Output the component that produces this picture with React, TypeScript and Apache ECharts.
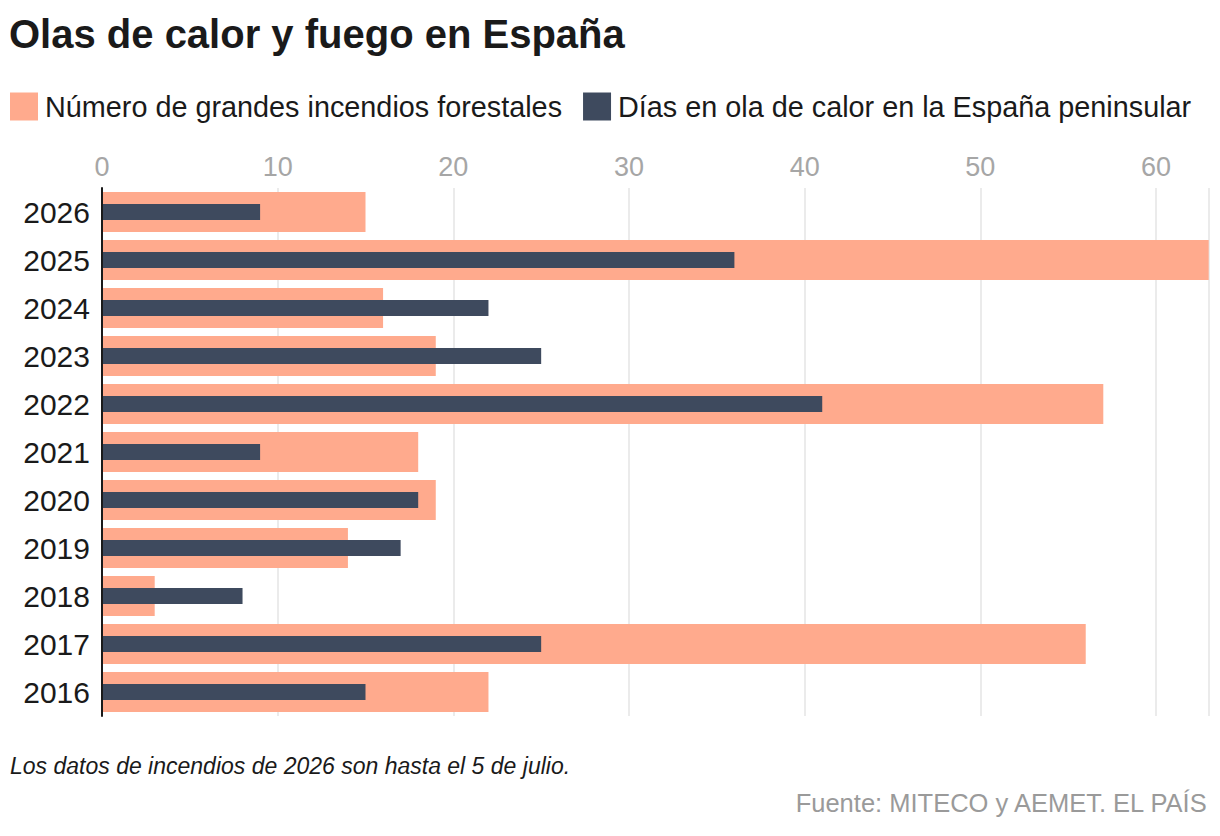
import React, { useEffect, useRef } from "react";
import * as echarts from "echarts";

// Years, top to bottom
const years = ["2026", "2025", "2024", "2023", "2022", "2021", "2020", "2019", "2018", "2017", "2016"];
// Número de grandes incendios forestales
const fires = [15, 63, 16, 19, 57, 18, 19, 14, 3, 56, 22];
// Días en ola de calor en la España peninsular
const heatDays = [9, 36, 22, 25, 41, 9, 18, 17, 8, 25, 15];
const xTicks = [0, 10, 20, 30, 40, 50, 60];

const FIRE_COLOR = "#ffaa8d";
const HEAT_COLOR = "#3e4a5e";
const FONT = "'Liberation Sans', Arial, sans-serif";

export default function App() {
  const ref = useRef<HTMLDivElement>(null);

  useEffect(() => {
    if (!ref.current) return;
    const chart = echarts.init(ref.current, null, { renderer: "svg" });
    const yAxisBase = {
      type: "category" as const,
      data: years,
      inverse: true,
    };
    chart.setOption({
      animation: false,
      backgroundColor: "#ffffff",
      title: {
        text: "Olas de calor y fuego en España",
        left: 4,
        top: 9,
        textStyle: {
          fontFamily: FONT,
          fontSize: 40,
          fontWeight: "bold",
          color: "#1a1a1a",
        },
      },
      legend: {
        left: 5,
        top: 87,
        itemWidth: 28,
        itemHeight: 28,
        itemGap: 21,
        icon: "rect",
        selectedMode: false,
        textStyle: {
          fontFamily: FONT,
          fontSize: 28.8,
          color: "#1a1a1a",
          padding: [0, 0, 0, 2],
        },
        data: ["Número de grandes incendios forestales", "Días en ola de calor en la España peninsular"],
      },
      grid: {
        left: 102,
        top: 188,
        width: 63 * ((1156 - 102) / 60),
        height: 528,
      },
      xAxis: {
        type: "value",
        position: "top",
        min: 0,
        max: 63,
        interval: 10,
        axisLine: { show: false },
        axisTick: { show: false },
        axisLabel: {
          fontFamily: FONT,
          fontSize: 27,
          color: "#a6a6a6",
          margin: 8,
          formatter: (v: number) => (xTicks.includes(v) ? String(v) : ""),
        },
        splitLine: { show: true, lineStyle: { color: "#e5e5e5", width: 1.5 } },
      },
      yAxis: [
        {
          ...yAxisBase,
          axisLine: { show: true, lineStyle: { color: "#1a1a1a", width: 2 } },
          axisTick: { show: false },
          axisLabel: {
            fontFamily: FONT,
            fontSize: 30,
            color: "#1a1a1a",
            margin: 12,
            padding: [0, 0, 5, 0],
          },
          z: 5,
        },
        {
          ...yAxisBase,
          show: false,
        },
      ],
      series: [
        {
          name: "Número de grandes incendios forestales",
          type: "bar",
          yAxisIndex: 0,
          data: fires,
          barWidth: 40,
          itemStyle: { color: FIRE_COLOR },
          z: 2,
        },
        {
          name: "Días en ola de calor en la España peninsular",
          type: "bar",
          yAxisIndex: 1,
          data: heatDays,
          barWidth: 16,
          itemStyle: { color: HEAT_COLOR },
          z: 3,
        },
      ],
      graphic: [
        {
          type: "text",
          left: 10,
          top: 754,
          style: {
            text: "Los datos de incendios de 2026 son hasta el 5 de julio.",
            fontFamily: FONT,
            fontSize: 23,
            fontStyle: "italic",
            fill: "#1a1a1a",
          },
        },
        {
          type: "text",
          right: 11,
          top: 790,
          style: {
            text: "Fuente: MITECO y AEMET. EL PAÍS",
            fontFamily: FONT,
            fontSize: 25.5,
            fill: "#9a9a9a",
          },
        },
      ],
    });
    return () => chart.dispose();
  }, []);

  return (
    <div
      ref={ref}
      style={{ position: "fixed", left: 0, top: 0, width: 1220, height: 836, background: "#fff" }}
    />
  );
}
